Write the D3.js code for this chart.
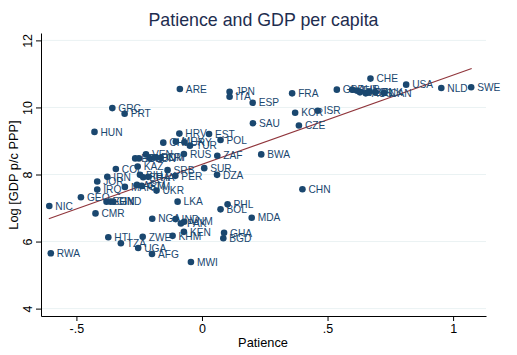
<!DOCTYPE html>
<html>
<head>
<meta charset="utf-8">
<script src="https://cdn.jsdelivr.net/npm/d3@7/dist/d3.min.js"></script>
<style>
  html, body { margin: 0; padding: 0; background: #fff; }
  svg { display: block; font-family: "Liberation Sans", Arial, sans-serif; }
</style>
</head>
<body>
<svg id="chart" width="517" height="355"></svg>
<script>
// ---- data ----
const countries = ["ARE","GRC","PRT","HUN","HRV","JPN","ITA","ESP","FRA","KOR","ISR","SAU","CZE","EST","POL",
  "CHL","MEX","URY","TUR","RUS","ZAF","BWA","CHN","MDA","CHE","USA","NLD","SWE","GBR","AUT","FIN","DEU","AUS",
  "BEL","DNK","CAN","ECU","IDN","VEN","LBN","DOM","CRI","COL","KAZ","SRB","SUR","DZA","PER","IRN","BIH","BRA",
  "THA","JOR","IRQ","MAR","ARM","GTM","UKR","GEO","NIC","CMR","EGY","GIN","HND","LKA","PHL","BOL","NGA","IND",
  "VNM","PAK","KEN","KHM","ZWE","HTI","TZA","UGA","AFG","GHA","BGD","MWI","RWA"];
const patience = [-0.088,-0.357,-0.308,-0.428,-0.090,0.110,0.110,0.202,0.359,0.371,0.461,0.203,0.386,0.028,0.074,
  -0.154,-0.104,-0.070,-0.048,-0.072,0.061,0.236,0.400,0.198,0.671,0.813,0.953,1.072,0.537,0.598,0.618,0.629,0.652,
  0.665,0.690,0.725,-0.266,-0.251,-0.223,-0.207,-0.187,-0.165,-0.343,-0.256,-0.137,0.009,0.060,-0.106,-0.377,-0.247,-0.234,
  -0.214,-0.417,-0.417,-0.307,-0.259,-0.240,-0.181,-0.482,-0.608,-0.424,-0.380,-0.364,-0.353,-0.097,0.102,0.074,-0.198,-0.105,
  -0.071,-0.084,-0.072,-0.117,-0.236,-0.373,-0.323,-0.254,-0.199,0.088,0.085,-0.044,-0.602];
const logGdp = [10.55,9.98,9.81,9.27,9.22,10.47,10.32,10.14,10.42,9.84,9.90,9.53,9.46,9.21,9.03,
  8.95,8.98,8.96,8.86,8.61,8.56,8.60,7.56,6.71,10.86,10.68,10.58,10.60,10.53,10.53,10.50,10.45,10.42,
  10.46,10.46,10.43,8.48,8.48,8.60,8.48,8.51,8.50,8.165,8.24,8.13,8.19,7.99,7.96,7.93,7.99,7.92,
  7.93,7.79,7.55,7.63,7.69,7.66,7.52,7.32,7.06,6.84,7.19,7.19,7.19,7.19,7.11,6.96,6.68,6.67,
  6.59,6.54,6.29,6.17,6.14,6.13,5.95,5.81,5.63,6.26,6.10,5.39,5.65];
const fitX = [-0.61, 1.074];
const fitY = [6.68, 11.16];
const xTicks = [-0.5, 0, 0.5, 1];
const xTickLabels = ["-.5", "0", ".5", "1"];
const yTicks = [4, 6, 8, 10, 12];
const yTickLabels = ["4", "6", "8", "10", "12"];

// ---- layout ----
const svg = d3.select("#chart");
const navy = "#1a476f";
const x = d3.scaleLinear().domain([-0.641, 1.131]).range([41, 486]);
const y = d3.scaleLinear().domain([3.78, 12.22]).range([316, 33]);

// gridlines
svg.append("g").selectAll("line").data(yTicks).join("line")
  .attr("x1", 41).attr("x2", 486)
  .attr("y1", d => y(d)).attr("y2", d => y(d))
  .attr("stroke", "#eaf2f3").attr("stroke-width", 1);

// axes
const xAxis = d3.axisBottom(x).tickValues(xTicks).tickFormat((d, i) => xTickLabels[i]).tickSize(5).tickSizeOuter(0).tickPadding(3);
const gx = svg.append("g").attr("transform", "translate(0,316)").call(xAxis);
gx.select(".domain").attr("stroke", "#000");
gx.selectAll(".tick line").attr("stroke", "#000");
gx.selectAll(".tick text").attr("font-size", 12.5).attr("fill", "#000")
  .attr("font-family", "Liberation Sans, Arial, sans-serif");

const yAxis = d3.axisLeft(y).tickValues(yTicks).tickFormat((d, i) => yTickLabels[i]).tickSize(5).tickSizeOuter(0);
const gy = svg.append("g").attr("transform", "translate(41,0)").call(yAxis);
gy.select(".domain").attr("stroke", "#000");
gy.selectAll(".tick line").attr("stroke", "#000");
gy.selectAll(".tick text")
  .attr("font-size", 12.5).attr("fill", "#000")
  .attr("font-family", "Liberation Sans, Arial, sans-serif")
  .attr("text-anchor", "middle")
  .attr("x", 0).attr("dy", 0)
  .attr("transform", "translate(-9.5,0) rotate(-90)");

// fit line
svg.append("line")
  .attr("x1", x(fitX[0])).attr("y1", y(fitY[0]))
  .attr("x2", x(fitX[1])).attr("y2", y(fitY[1]))
  .attr("stroke", "#90353b").attr("stroke-width", 1.1);

// points + labels
const pts = countries.map((c, i) => ({c, px: patience[i], gy: logGdp[i]}));
const g = svg.append("g");
pts.forEach(d => {
  g.append("circle").attr("cx", x(d.px)).attr("cy", y(d.gy)).attr("r", 3.3).attr("fill", navy);
  g.append("text").attr("x", x(d.px) + 6).attr("y", y(d.gy)).attr("dy", "0.36em")
    .attr("font-size", 10.2).attr("fill", navy).text(d.c);
});

// titles
svg.append("text").attr("x", 263.5).attr("y", 26).attr("text-anchor", "middle")
  .attr("font-size", 17.8).attr("fill", "#1e2d4f").text("Patience and GDP per capita");
svg.append("text").attr("x", 263).attr("y", 347).attr("text-anchor", "middle")
  .attr("font-size", 12.8).attr("fill", "#000").text("Patience");
svg.append("text").attr("transform", "translate(18,175) rotate(-90)").attr("text-anchor", "middle")
  .attr("font-size", 12.8).attr("fill", "#000").text("Log [GDP p/c PPP]");
</script>
</body>
</html>
